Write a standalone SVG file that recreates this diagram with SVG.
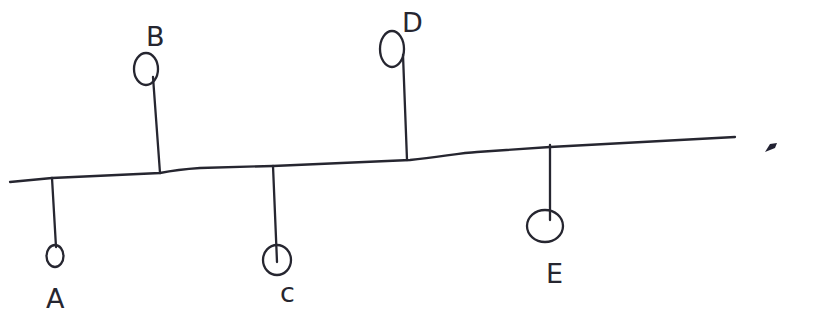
<svg xmlns="http://www.w3.org/2000/svg" width="819" height="320" viewBox="0 0 819 320">
<style>
.ln{fill:none;stroke:#262630;stroke-width:2.3;stroke-linecap:round;stroke-linejoin:round}
.nd{fill:none;stroke:#262630;stroke-width:2.3}
.lb{font-family:"DejaVu Sans",sans-serif;font-size:27px;fill:#262630;font-weight:normal}
</style>
<rect width="819" height="320" fill="#ffffff"/>
<g id="connectors">
<path class="ln" d="M10,182 L52,178 L160,173 C175,170 185,169 200,168 L273,166 L410,160 C440,157 460,153 477,152 L550,147 L735,137"/>
<path class="ln" d="M52,178 L56,247"/>
<path class="ln" d="M153,77 L160,173"/>
<path class="ln" d="M273,166 L277,262"/>
<path class="ln" d="M403,55 L407,160"/>
<path class="ln" d="M550,145 L550,220"/>
</g>
<g id="node-A"><ellipse class="nd" cx="55" cy="256" rx="8.5" ry="11"/><text class="lb" x="46" y="308">A</text></g>
<g id="node-B"><ellipse class="nd" cx="146" cy="69" rx="12" ry="16"/><text class="lb" x="146" y="46">B</text></g>
<g id="node-C"><ellipse class="nd" cx="277" cy="260" rx="14" ry="15"/><text class="lb" x="280" y="302">c</text></g>
<g id="node-D"><ellipse class="nd" cx="392" cy="49" rx="12" ry="18"/><text class="lb" x="402" y="32">D</text></g>
<g id="node-E"><ellipse class="nd" cx="545" cy="226" rx="18" ry="16"/><text class="lb" x="546" y="283">E</text></g>
<path d="M765,152 L770,144 L777,143 L775,148 Z" fill="#223"/>
</svg>
